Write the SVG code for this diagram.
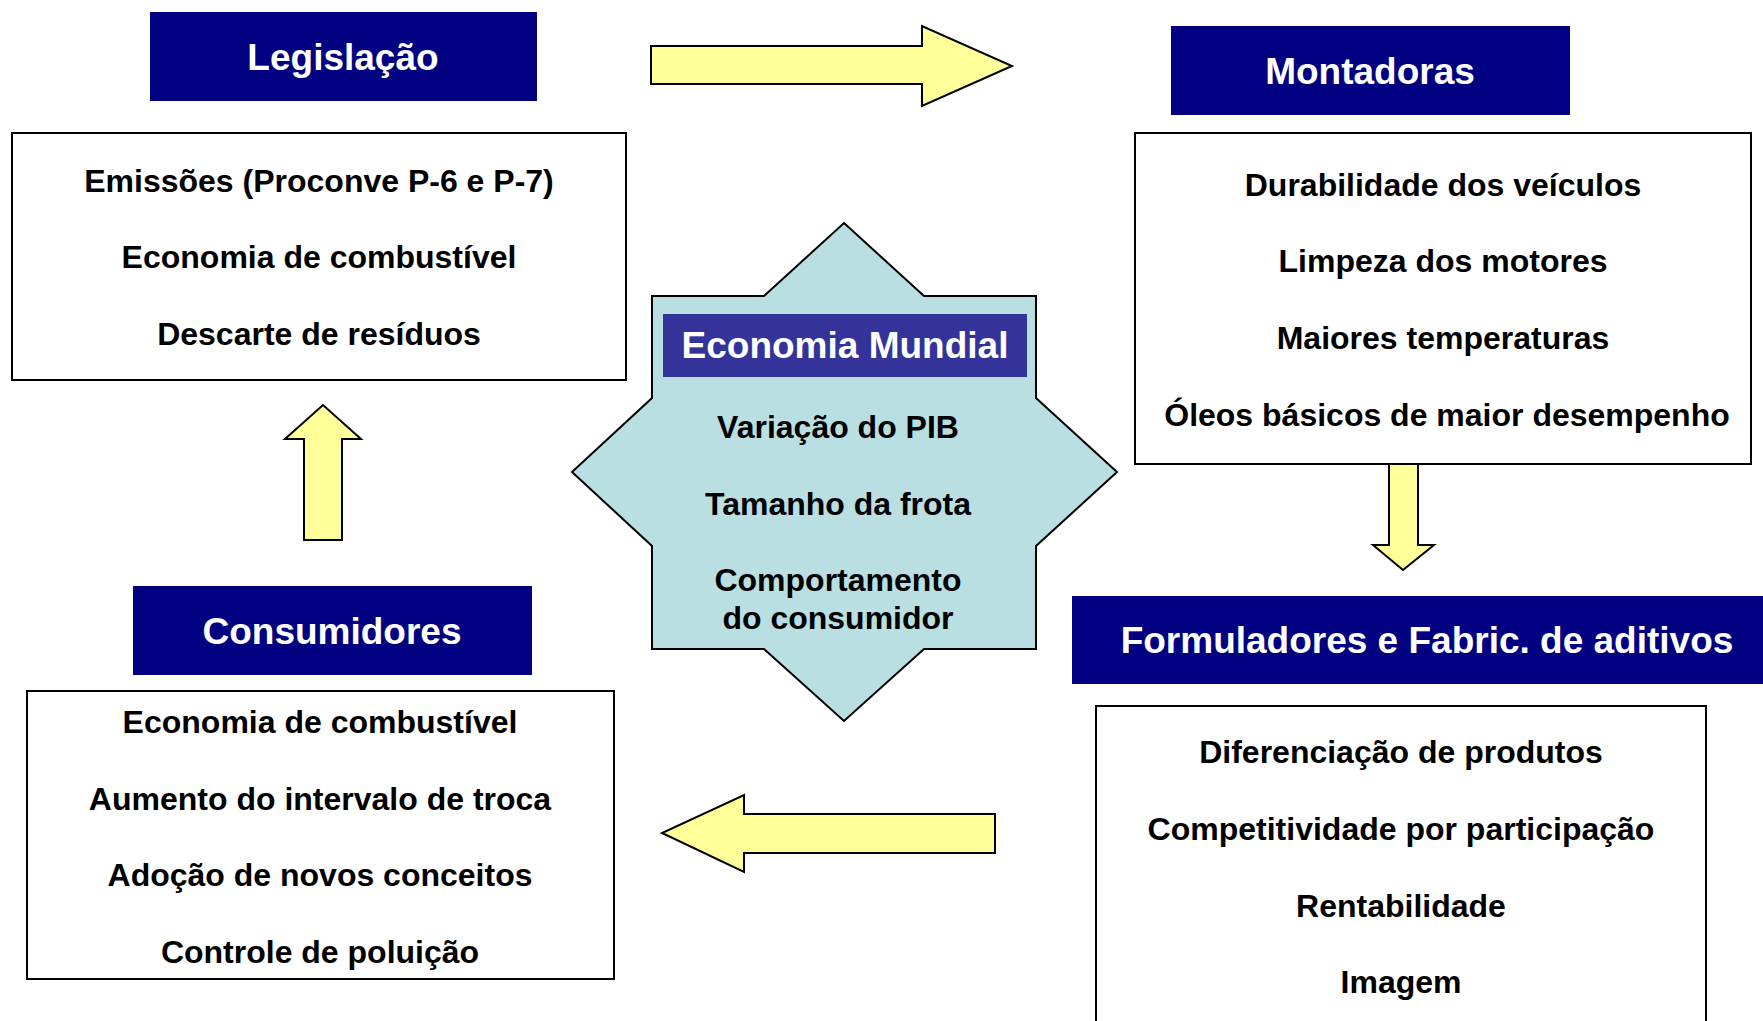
<svg xmlns="http://www.w3.org/2000/svg" width="1763" height="1021" viewBox="0 0 1763 1021">
<style>
.hdr{fill:#000080}
.hdrt{font-family:"Liberation Sans",Arial,sans-serif;font-weight:bold;font-size:37px;fill:#fff;text-anchor:middle}
.box{fill:#fff;stroke:#000;stroke-width:2}
.t{font-family:"Liberation Sans",Arial,sans-serif;font-weight:bold;font-size:32px;fill:#000;text-anchor:middle}
.arr{fill:#FFFF99;stroke:#000;stroke-width:2;stroke-linejoin:miter}
</style>
<rect width="1763" height="1021" fill="#fff"/>
<g id="connectors">
<polygon class="arr" points="651,46 922,46 922,26 1012,66 922,106 922,84 651,84"/>
<polygon class="arr" points="1389,464 1418,464 1418,545 1434,545 1403,570 1373,545 1389,545"/>
<polygon class="arr" points="995,814 744,814 744,795 662,833 744,872 744,853 995,853"/>
<polygon class="arr" points="304,540 304,439 285,439 323,405 361,439 342,439 342,540"/>
</g>
<g id="legislacao">
<rect class="hdr" x="150" y="12" width="387" height="89"/>
<text class="hdrt" x="343" y="70">Legislação</text>
<rect class="box" x="12" y="133" width="614" height="247"/>
<text class="t" x="319" y="192">Emissões (Proconve P-6 e P-7)</text>
<text class="t" x="319" y="268">Economia de combustível</text>
<text class="t" x="319" y="345">Descarte de resíduos</text>
</g>
<g id="montadoras">
<rect class="hdr" x="1171" y="26" width="399" height="89"/>
<text class="hdrt" x="1370" y="84">Montadoras</text>
<rect class="box" x="1135" y="133" width="616" height="331"/>
<text class="t" x="1443" y="196">Durabilidade dos veículos</text>
<text class="t" x="1443" y="272">Limpeza dos motores</text>
<text class="t" x="1443" y="349">Maiores temperaturas</text>
<text class="t" x="1447" y="426">Óleos básicos de maior desempenho</text>
</g>
<g id="economia">
<polygon points="844,223 924,296 1036,296 1036,398 1117,472 1036,546 1036,649 924,649 844,721 764,649 652,649 652,546 572,472 652,398 652,296 764,296" fill="#B9DFE2" stroke="#000" stroke-width="2"/>
<rect x="663" y="314" width="364" height="63" fill="#333399"/>
<text class="hdrt" x="845" y="358">Economia Mundial</text>
<text class="t" x="838" y="438">Variação do PIB</text>
<text class="t" x="838" y="515">Tamanho da frota</text>
<text class="t" x="838" y="591">Comportamento</text>
<text class="t" x="838" y="629">do consumidor</text>
</g>
<g id="consumidores">
<rect class="hdr" x="133" y="586" width="399" height="89"/>
<text class="hdrt" x="332" y="644">Consumidores</text>
<rect class="box" x="27" y="691" width="587" height="288"/>
<text class="t" x="320" y="733">Economia de combustível</text>
<text class="t" x="320" y="810">Aumento do intervalo de troca</text>
<text class="t" x="320" y="886">Adoção de novos conceitos</text>
<text class="t" x="320" y="963">Controle de poluição</text>
</g>
<g id="formuladores">
<rect class="hdr" x="1072" y="596" width="691" height="88"/>
<text class="hdrt" x="1427" y="653">Formuladores e Fabric. de aditivos</text>
<rect class="box" x="1096" y="706" width="610" height="330"/>
<text class="t" x="1401" y="763">Diferenciação de produtos</text>
<text class="t" x="1401" y="840">Competitividade por participação</text>
<text class="t" x="1401" y="917">Rentabilidade</text>
<text class="t" x="1401" y="993">Imagem</text>
</g>
</svg>
